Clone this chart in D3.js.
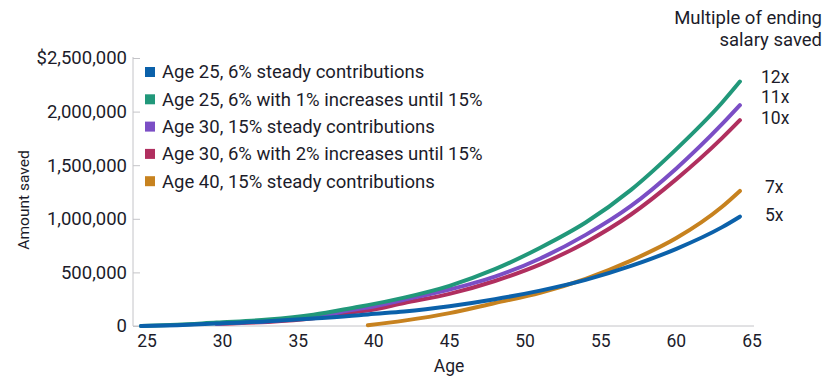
<!DOCTYPE html>
<html>
<head>
<meta charset="utf-8">
<script src="https://cdn.jsdelivr.net/npm/d3@7"></script>
<style>
  body { margin: 0; background: #fff; }
  text { font-family: Roboto, "Noto Sans", sans-serif; fill: #1c1c2a; }
</style>
</head>
<body>
<div id="chart"></div>
<script>
let ages = [24.6, 27, 29.6, 30, 33, 36, 39, 39.6, 42, 45, 48, 51, 54, 57, 60, 63, 64.2];

// amount saved, $ (null = series not started yet)
let age25Steady   = [0, 8000, 23000, 25000, 45000, 70000, 100000, 108000, 135000, 185000, 250000, 330000, 430000, 560000, 720000, 920000, 1020000];
let age25Increase = [0, 12000, 32000, 35000, 60000, 105000, 180000, 195000, 265000, 375000, 530000, 730000, 965000, 1270000, 1650000, 2080000, 2280000];
let age30Steady   = [null, null, 22000, 25000, 45000, 85000, 160000, 172000, 245000, 340000, 460000, 630000, 850000, 1120000, 1470000, 1880000, 2060000];
let age30Increase = [null, null, 20000, 22000, 38000, 72000, 135000, 145000, 215000, 300000, 420000, 575000, 780000, 1040000, 1370000, 1750000, 1920000];
let age40Steady   = [null, null, null, null, null, null, null, 6000, 50000, 120000, 215000, 310000, 440000, 610000, 820000, 1110000, 1260000];

let seriesNames = [
  "Age 25, 6% steady contributions",
  "Age 25, 6% with 1% increases until 15%",
  "Age 30, 15% steady contributions",
  "Age 30, 6% with 2% increases until 15%",
  "Age 40, 15% steady contributions"
];
let seriesColors = ["#0b61aa", "#21987a", "#7b4ec5", "#b02f5f", "#c7821f"];
let multiples = ["5x", "12x", "11x", "10x", "7x"];

let xTicks = [25, 30, 35, 40, 45, 50, 55, 60, 65];
let yTicks = [0, 500000, 1000000, 1500000, 2000000, 2500000];

let allSeries = [age25Steady, age25Increase, age30Steady, age30Increase, age40Steady];

let width = 836, height = 382;
let svg = d3.select("#chart").append("svg")
  .attr("width", width)
  .attr("height", height);

let x = d3.scaleLinear().domain([25, 65]).range([147, 752]);
let y = d3.scaleLinear().domain([0, 2500000]).range([326, 58]);

// y axis, ticks point into the plot
let yAxis = svg.append("g")
  .attr("transform", "translate(133,0)")
  .call(d3.axisRight(y).tickValues(yTicks).tickSize(7).tickFormat(""));
yAxis.select(".domain").attr("stroke", "#c4c4c8").attr("d", "M0," + y(0) + "V" + (y(2500000) - 1));
yAxis.selectAll(".tick line").attr("stroke", "#c4c4c8");

svg.selectAll(".ylab")
  .data(yTicks)
  .enter()
  .append("text")
  .attr("x", 127)
  .attr("y", d => y(d))
  .attr("dy", "0.35em")
  .attr("text-anchor", "end")
  .style("font-size", "18.5px")
  .text(d => d == 2500000 ? "$" + d3.format(",")(d) : d3.format(",")(d));

// baseline / x axis
svg.append("line")
  .attr("x1", 133).attr("x2", 754)
  .attr("y1", y(0)).attr("y2", y(0))
  .attr("stroke", "#c4c4c8");

svg.selectAll(".xlab")
  .data(xTicks)
  .enter()
  .append("text")
  .attr("x", d => x(d))
  .attr("y", 341)
  .attr("dy", "0.35em")
  .attr("text-anchor", "middle")
  .style("font-size", "17.5px")
  .text(d => d);

svg.append("text")
  .attr("x", 449).attr("y", 366)
  .attr("dy", "0.35em")
  .attr("text-anchor", "middle")
  .style("font-size", "17.5px")
  .text("Age");

svg.append("text")
  .attr("transform", "translate(24,200) rotate(-90)")
  .attr("dy", "0.35em")
  .attr("text-anchor", "middle")
  .style("font-size", "15.5px")
  .text("Amount saved");

// lines
let line = d3.line()
  .defined(d => d[1] != null)
  .x(d => x(d[0]))
  .y(d => y(d[1]))
  .curve(d3.curveMonotoneX);

let order = [4, 3, 2, 1, 0];
svg.selectAll(".series")
  .data(order)
  .enter()
  .append("path")
  .attr("d", i => line(ages.map((a, k) => [a, allSeries[i][k]])))
  .attr("fill", "none")
  .attr("stroke", i => seriesColors[i])
  .attr("stroke-width", 4)
  .attr("stroke-linecap", "round");

// multiples at line ends (11x / 10x pushed apart a little)
let endOffsets = [-2, -5, -8, -2, -4];
svg.selectAll(".mult")
  .data(multiples)
  .enter()
  .append("text")
  .attr("x", d => d.length > 2 ? 761 : 765)
  .attr("y", (d, i) => y(allSeries[i][ages.length - 1]) + endOffsets[i])
  .attr("dy", "0.35em")
  .style("font-size", "17.5px")
  .text(d => d);

svg.append("text")
  .attr("x", 822).attr("y", 18)
  .attr("dy", "0.35em")
  .attr("text-anchor", "end")
  .style("font-size", "18.5px")
  .text("Multiple of ending");
svg.append("text")
  .attr("x", 822).attr("y", 40)
  .attr("dy", "0.35em")
  .attr("text-anchor", "end")
  .style("font-size", "18.5px")
  .text("salary saved");

// legend
let legend = svg.selectAll(".legend")
  .data(seriesNames)
  .enter()
  .append("g")
  .attr("transform", (d, i) => "translate(145," + (72 + i * 27.3) + ")");
legend.append("rect")
  .attr("x", 0).attr("y", -5)
  .attr("width", 10).attr("height", 10)
  .attr("fill", (d, i) => seriesColors[i]);
legend.append("text")
  .attr("x", 17)
  .attr("dy", "0.35em")
  .style("font-size", "18.5px")
  .text(d => d);
</script>
</body>
</html>
